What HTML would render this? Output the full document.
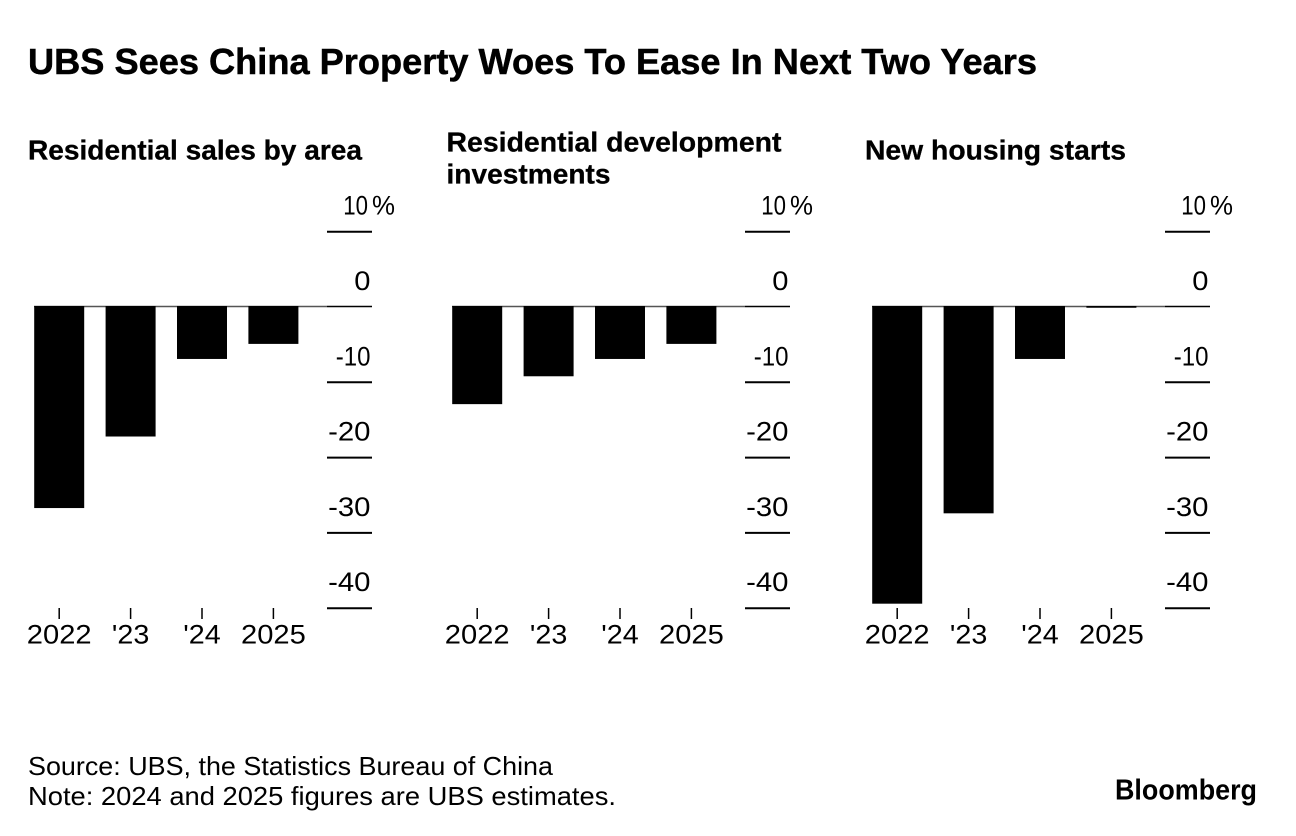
<!DOCTYPE html>
<html lang="en">
<head>
<meta charset="utf-8">
<title>UBS Sees China Property Woes To Ease In Next Two Years</title>
<style>
html,body{margin:0;padding:0;background:#fff;}
body{width:1296px;height:836px;overflow:hidden;}
svg{display:block;font-family:"Liberation Sans",sans-serif;fill:#000;}
.title{font-size:36px;font-weight:700;stroke:#000;stroke-width:.5px;}
.sub{font-size:28px;font-weight:700;stroke:#000;stroke-width:.3px;}
.tick{font-size:27px;}
.foot{font-size:26px;}
.logo{font-size:29px;font-weight:700;}
</style>
</head>
<body>
<svg id="chart" width="1296" height="836" viewBox="0 0 1296 836" xmlns="http://www.w3.org/2000/svg">
<rect x="0" y="0" width="1296" height="836" fill="#fff"/>
<text class="title" x="28" y="74" textLength="1009" lengthAdjust="spacingAndGlyphs">UBS Sees China Property Woes To Ease In Next Two Years</text>
<text class="sub" x="28" y="159.5" textLength="334" lengthAdjust="spacingAndGlyphs">Residential sales by area</text>
<text class="sub" x="446.5" y="151.5" textLength="335" lengthAdjust="spacingAndGlyphs">Residential development</text>
<text class="sub" x="446.5" y="183.5" textLength="164" lengthAdjust="spacingAndGlyphs">investments</text>
<text class="sub" x="865" y="159.5" textLength="261" lengthAdjust="spacingAndGlyphs">New housing starts</text>
<g id="panels"></g>
<text class="foot" x="28" y="775" textLength="525" lengthAdjust="spacingAndGlyphs">Source: UBS, the Statistics Bureau of China</text>
<text class="foot" x="28" y="805" textLength="588" lengthAdjust="spacingAndGlyphs">Note: 2024 and 2025 figures are UBS estimates.</text>
<text class="logo" x="1115" y="799.5" textLength="142" lengthAdjust="spacingAndGlyphs">Bloomberg</text>
</svg>
<script>
var categories = ['2022', "'23", "'24", '2025'];
var yTicks = [10, 0, -10, -20, -30, -40];
var salesValues = [-26.7, -17.2, -6.9, -4.9];
var investmentValues = [-12.9, -9.2, -6.9, -4.9];
var startsValues = [-39.4, -27.4, -6.9, -0.1];
var panelNames = ['sales', 'investments', 'starts'];
var panelValues = [salesValues, investmentValues, startsValues];

var SVG_NS = 'http://www.w3.org/2000/svg';
var root = document.getElementById('panels');
var panelOffsets = [0, 418, 838];

function yScale(v) {
  return 307 + (0 - v) * (608.5 - 232) / 50;
}
function xScale(i) {
  return 34.2 + i * 71.4;
}
function labelWidth(s) {
  var w = 0;
  for (var c = 0; c < s.length; c++) {
    var ch = s.charAt(c);
    w += ch === '1' ? 8.5 : ch === '-' ? 10 : ch === "'" ? 5 : 16.2;
  }
  return w;
}
function make(tag, attrs) {
  var el = document.createElementNS(SVG_NS, tag);
  for (var k in attrs) { el.setAttribute(k, attrs[k]); }
  return el;
}

panelValues.forEach(function (values, p) {
  var off = panelOffsets[p];
  var g = make('g', {transform: 'translate(' + off + ',0)'});
  
  
  root.appendChild(g);

  var baseline = make('line', {x1: 34, x2: 327, y1: yScale(0) - 0.5, y2: yScale(0) - 0.5, stroke: '#555', 'stroke-width': 1.5});
  
  
  g.appendChild(baseline);

  values.forEach(function (v, i) {
    var top = yScale(0) - 1;
    var bar = make('rect', {x: xScale(i), y: top, width: 50, height: Math.max(yScale(v) - top, 1), fill: '#000'});
    
    
    g.appendChild(bar);

    var cx = xScale(i) + 25;
    var tick = make('line', {x1: cx, x2: cx, y1: 608, y2: 619, stroke: '#000', 'stroke-width': 1.5});
    
    
    g.appendChild(tick);

    var w = labelWidth(categories[i]);
    var label = make('text', {x: cx - w / 2, y: 643.5, 'class': 'tick', textLength: w, lengthAdjust: 'spacingAndGlyphs'});
    label.textContent = categories[i];
    
    
    g.appendChild(label);
  });

  yTicks.forEach(function (t) {
    var gy = yScale(t);
    var lineY = t === 0 ? gy - 0.5 : gy;
    var grid = make('line', {x1: 327, x2: 372, y1: lineY, y2: lineY, stroke: '#000', 'stroke-width': t === 0 ? 1.5 : 2});
    
    
    g.appendChild(grid);

    var text = String(t);
    var w = labelWidth(text);
    var right = t === 10 ? 368 : 370.5;
    var lab = make('text', {x: right - w, y: gy - 17, 'class': 'tick', textLength: w, lengthAdjust: 'spacingAndGlyphs'});
    lab.textContent = text;
    
    
    g.appendChild(lab);

    if (t === 10) {
      var unit = make('text', {x: 372, y: gy - 17, 'class': 'tick', textLength: 23, lengthAdjust: 'spacingAndGlyphs'});
      unit.textContent = '%';
      
      
      g.appendChild(unit);
    }
  });
});
</script>
</body>
</html>
